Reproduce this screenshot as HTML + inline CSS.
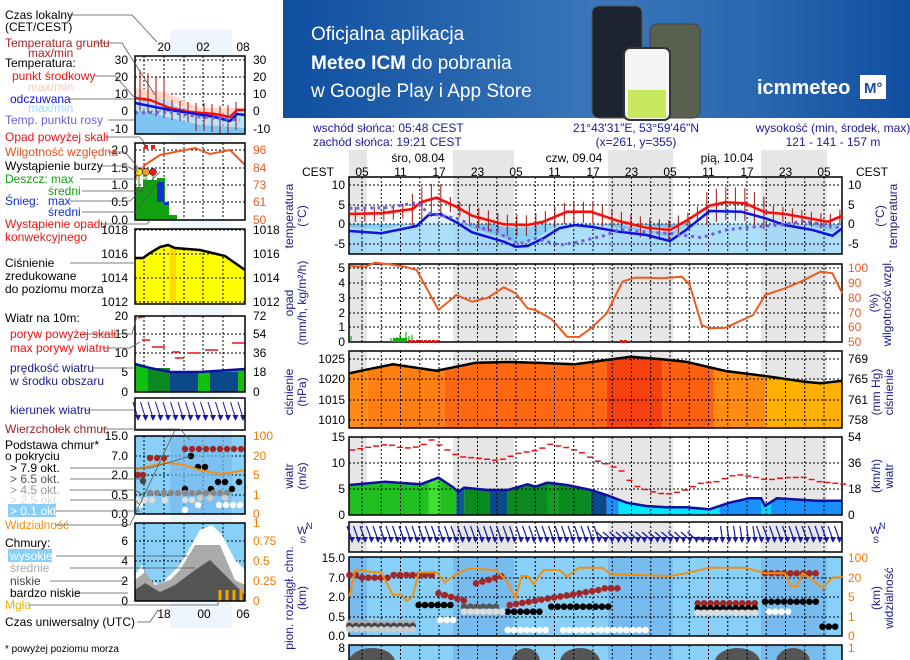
<!DOCTYPE html>
<html><head><meta charset="utf-8">
<style>
html,body{margin:0;padding:0;background:#fff;}
svg{display:block;font-family:"Liberation Sans",Arial,sans-serif;}
</style></head><body>
<svg id="s" width="910" height="660" viewBox="0 0 910 660" xmlns="http://www.w3.org/2000/svg">
<defs>
<linearGradient id="bn" x1="0" y1="0" x2="1" y2="0">
<stop offset="0" stop-color="#0f4fa0"/><stop offset="0.5" stop-color="#3a76b8"/><stop offset="0.75" stop-color="#2c68b0"/><stop offset="1" stop-color="#114ea0"/>
</linearGradient>
</defs>
<!-- banner -->
<rect x="283" y="0" width="627" height="118" fill="url(#bn)"/>
<text x="311" y="40" fill="#fff" font-size="19">Oficjalna aplikacja</text>
<text x="311" y="69" fill="#fff" font-size="19"><tspan font-weight="bold">Meteo ICM</tspan> do pobrania</text>
<text x="311" y="97" fill="#fff" font-size="19">w Google Play i App Store</text>
<rect x="592" y="6" width="50" height="112" rx="7" fill="#1c2431" stroke="#555"/>
<rect x="650" y="24" width="50" height="94" rx="7" fill="#5a6050" stroke="#444"/>
<rect x="624" y="48" width="46" height="72" rx="6" fill="#f4f4f4" stroke="#333" stroke-width="2"/>
<rect x="628" y="90" width="38" height="28" fill="#c8e860"/>
<text x="757" y="94" fill="#fff" font-size="20" font-weight="bold">icmmeteo</text>
<rect x="860" y="75" width="26" height="24" fill="#fff"/>
<text x="864" y="93" fill="#1a4fa0" font-size="15" font-weight="bold">M°</text>
<g id="g"></g>
</svg>
<script>
const NS="http://www.w3.org/2000/svg",G=document.getElementById('g');
function el(t,a,txt){const e=document.createElementNS(NS,t);for(const k in a)e.setAttribute(k,a[k]);if(txt!==undefined)e.textContent=txt;G.appendChild(e);return e;}
function T(x,y,s,c,o){o=o||{};el('text',Object.assign({x:x,y:y,fill:c||'#000','font-size':o.fs||12,'text-anchor':o.a||'start'},o.ex||{}),s);}
const zx=z=>290+z/2.526, zy2=z=>115+z/3, zy3=z=>340+z/3;
const L=349,R=842;
function pts(arr,fy){return arr.map(p=>zx(p[0]).toFixed(1)+','+fy(p[1]).toFixed(1)).join(' ');}
function interp(arr,x){for(let i=0;i<arr.length-1;i++){if(x>=arr[i][0]&&x<=arr[i+1][0]){const t=(x-arr[i][0])/(arr[i+1][0]-arr[i][0]);return arr[i][1]+t*(arr[i+1][1]-arr[i][1]);}}return arr[x<arr[0][0]?0:arr.length-1][1];}
const nights=[[349,367],[453,514],[608,673],[761,827]];
const vx=[];for(let x=362-19.25;x<R;x+=19.25)if(x>L)vx.push(x);

// header texts
T(313,132,'wschód słońca: 05:48 CEST','#1a1a9a');
T(313,146,'zachód słońca: 19:21 CEST','#1a1a9a');
T(636,132,'21°43\'31"E, 53°59\'46"N','#1a1a9a',{a:'middle'});
T(636,146,'(x=261,  y=355)','#1a1a9a',{a:'middle'});
T(833,132,'wysokość (min, środek, max)','#1a1a9a',{a:'middle'});
T(833,146,'121 - 141 - 157 m','#1a1a9a',{a:'middle'});
nights.forEach(n=>el('rect',{x:n[0],y:150,width:n[1]-n[0],height:27,fill:'#e6e6e6'}));
T(418,162,'śro, 08.04','#000',{a:'middle'});T(574,162,'czw, 09.04','#000',{a:'middle'});T(727,162,'pią, 10.04','#000',{a:'middle'});
T(302,176,'CEST');T(856,176,'CEST');
['05','11','17','23','05','11','17','23','05','11','17','23','05'].forEach((h,i)=>T(362+i*38.5,176,h,'#000',{a:'middle'}));

function panel(y0,y1,bg,nightc,hl,ll,rl){
  el('rect',{x:L,y:y0,width:R-L,height:y1-y0,fill:bg});
  nights.forEach(n=>el('rect',{x:n[0],y:y0,width:n[1]-n[0],height:y1-y0,fill:nightc}));
}
function grid(y0,y1,hl){
  vx.forEach(x=>el('line',{x1:x,y1:y0,x2:x,y2:y1,stroke:'#000','stroke-width':1,'stroke-dasharray':'2,2'}));
  hl.forEach(y=>el('line',{x1:L,y1:y,x2:R,y2:y,stroke:'#000','stroke-width':1,'stroke-dasharray':'2,2'}));
  el('rect',{x:L,y:y0,width:R-L,height:y1-y0,fill:'none',stroke:'#000','stroke-width':1.5});
}
function labels(ys,ls,rs,rc){ys.forEach((y,i)=>{T(345,y+4,ls[i],'#000',{a:'end'});if(rs)T(848,y+4,rs[i],rc||'#000');});}
function vtitle(x,y,lines,c){lines.forEach((s,i)=>T(x+i*13,y,s,c||'#1a1a8a',{a:'middle',ex:{transform:`rotate(-90 ${x+i*13} ${y})`}}));}

// TEMP panel 177-254
panel(177,254,'#fff','#e6e6e6');
const red=[[150,297],[230,295],[310,282],[330,262],[370,248],[420,275],[460,302],[540,328],[600,330],[640,320],[700,290],[760,290],[830,318],[900,338],[960,345],[1000,318],[1060,272],[1100,262],[1150,265],[1200,292],[1250,297],[1320,312],[1360,320],[1395,302]];
const blue=[[150,348],[230,355],[300,338],[320,333],[350,300],[380,297],[420,322],[460,352],[540,380],[570,395],[600,393],[640,370],[680,340],[720,330],[760,335],[830,350],[900,360],[960,378],[1000,345],[1060,288],[1140,290],[1200,310],[1250,330],[1320,345],[1370,362],[1395,340]];
const dew=[[150,280],[250,278],[320,262],[350,295],[420,310],[470,335],[520,350],[580,387],[620,370],[680,390],[720,383],[800,360],[830,343],[900,352],[960,355],[1040,368],[1100,345],[1160,337],[1240,330],[1300,318],[1395,340]];
el('rect',{x:L,y:224,width:R-L,height:30,fill:'#88d0f8'});
nights.forEach(n=>el('rect',{x:n[0],y:224,width:n[1]-n[0],height:30,fill:'#7cc0ee'}));
el('polygon',{points:zx(150)+','+zy2(418)+' '+pts(blue.map(p=>[p[0],p[1]-12]),zy2)+' '+zx(1395)+','+zy2(418),fill:'#c6e8fb',opacity:0.6});
el('polygon',{points:pts(blue.map(p=>[p[0],Math.max(p[1]-4,328)]),zy2)+' '+pts(blue.slice().reverse().map(p=>[p[0],Math.max(p[1]+10,328)]),zy2),fill:'#a8dcfa',opacity:0.8});
el('polygon',{points:pts(red.map(p=>[p[0],p[1]-6]),zy2)+' '+pts(red.slice().reverse().map(p=>[p[0],p[1]+8]),zy2),fill:'#ffd8d0',opacity:0.8});
grid(177,254,[185,205,224,244]);
for(let z=165;z<1395;z+=24){const y=zy2(interp(red,z));const amp=(z>300&&z<400)||(z>1050&&z<1200)?22:(z>450&&z<1000?14:10);el('line',{x1:zx(z),y1:y-amp*0.7,x2:zx(z),y2:y+amp*0.8,stroke:'#a01010','stroke-width':1});}
el('polyline',{points:pts(red,zy2),fill:'none',stroke:'#f01010','stroke-width':2.5});
el('polyline',{points:pts(blue,zy2),fill:'none',stroke:'#1010e0','stroke-width':2.5});
el('polyline',{points:pts(dew,zy2),fill:'none',stroke:'#7060e0','stroke-width':3,'stroke-dasharray':'3,4'});
labels([185,205,224,244],['10','5','0','-5'],['10','5','0','-5']);
vtitle(293,216,['temperatura','(°C)']);vtitle(884,216,['(°C)','temperatura']);

// PRECIP 264-342
panel(264,342,'#fff','#e6e6e6');
grid(264,342,[268,283,298,313,327]);
const hum=[[150,453],[190,455],[215,443],[250,448],[290,455],[320,465],[375,585],[420,540],[460,560],[500,548],[540,517],[570,535],[600,580],[620,585],[660,612],[700,665],[730,666],[760,640],[800,595],[840,500],[870,488],[900,488],[940,490],[990,485],[1010,510],[1040,630],[1060,640],[1100,638],[1170,600],[1200,540],[1220,532],[1250,520],[1290,500],[1340,470],[1370,475],[1395,535]];
el('polyline',{points:pts(hum,zy2),fill:'none',stroke:'#f05a20','stroke-width':2});
[[351,6],[391,4],[394,3],[397,5],[400,8],[403,4],[406,10],[409,6],[412,7]].forEach(b=>el('line',{x1:b[0],y1:342,x2:b[0],y2:342-b[1],stroke:'#10b010','stroke-width':1.2}));
el('rect',{x:393,y:338,width:14,height:4,fill:'#10b010'});
[408,412,416,420,424,428,432,436,620,624].forEach(x=>el('rect',{x:x,y:340,width:3,height:3,fill:'#c02020'}));
labels([268,283,298,313,327,342],['5','4','3','2','1','0'],['100','90','80','70','60','50'],'#f05a20');
vtitle(293,303,['opad','(mm/h, kg/m²/h)']);vtitle(878,303,['(%)','wilgotność wzgl.']);

// PRESSURE 351-428
panel(351,428,'#fff','#e6e6e6');
const pr=[[150,100],[180,92],[260,73],[370,92],[470,68],[560,66],[620,68],[720,73],[860,50],[940,58],[1000,65],[1100,93],[1200,108],[1300,125],[1340,130],[1395,122]];
const bands=[[150,195,'#ff8a14'],[195,390,'#ff8010'],[390,800,'#ff6810'],[800,940,'#f54010'],[940,1070,'#ff6010'],[1070,1200,'#ff8c10'],[1200,1395,'#ffb000']];
const clipP=el('clipPath',{id:'cp'});
const poly=document.createElementNS(NS,'polygon');poly.setAttribute('points',pts(pr,zy3)+` ${R},428 ${L},428`);clipP.appendChild(poly);
bands.forEach(b=>el('rect',{x:zx(b[0]),y:351,width:zx(b[1])-zx(b[0]),height:77,fill:b[2],'clip-path':'url(#cp)'}));
grid(351,428,[359,379,400,420]);
el('polyline',{points:pts(pr,zy3),fill:'none',stroke:'#000','stroke-width':2.5});
labels([359,379,400,420],['1025','1020','1015','1010'],['769','765','761','758']);
vtitle(293,392,['ciśnienie','(hPa)']);vtitle(880,392,['(mm Hg)','ciśnienie']);

// WIND 437-515
panel(437,515,'#fff','#e6e6e6');
const wd=[[150,435],[240,425],[330,433],[375,413],[410,440],[425,455],[440,443],[500,450],[550,450],[600,433],[620,440],[650,428],[700,435],[760,450],[800,465],[850,488],[900,498],[950,502],[1000,502],[1060,508],[1110,488],[1160,475],[1190,475],[1200,497],[1230,475],[1330,482],[1395,482]];
const cw=el('clipPath',{id:'cw'});const pw=document.createElementNS(NS,'polygon');pw.setAttribute('points',pts(wd,zy3)+` ${R},515 ${L},515`);cw.appendChild(pw);
[[150,420,'#20c020'],[350,380,'#40e030'],[420,440,'#0a5a9a'],[440,505,'#0a8a20'],[505,550,'#0a4a8a'],[550,760,'#0a8a20'],[650,680,'#10a020'],[760,800,'#0a4a8a'],[800,830,'#1a90ff'],[830,1085,'#00e8ff'],[1085,1395,'#1a90ff'],[1190,1215,'#00d8ff']].forEach(b=>el('rect',{x:zx(b[0]),y:437,width:zx(b[1])-zx(b[0]),height:78,fill:b[2],'clip-path':'url(#cw)'}));
grid(437,515,[463,489]);
el('polyline',{points:pts(wd,zy3),fill:'none',stroke:'#1010a0','stroke-width':2.5});
const gust=[[150,330],[200,320],[240,313],[280,325],[320,320],[350,300],[390,330],[420,350],[470,355],[520,362],[570,340],[620,330],[650,313],[700,325],[740,343],[760,360],[800,375],[830,393],[860,435],[900,453],[940,463],[980,455],[1030,430],[1070,425],[1120,403],[1160,410],[1200,420],[1240,413],[1290,412],[1330,425],[1395,433]];
for(let z=150;z<1395;z+=20){const y=zy3(interp(gust,z));el('line',{x1:zx(z),y1:y,x2:zx(z)+6,y2:y,stroke:'#f01010','stroke-width':1.5});}
labels([437,463,489,515],['15','10','5','0'],['54','36','18','0']);
vtitle(293,476,['wiatr','(m/s)']);vtitle(880,476,['(km/h)','wiatr']);

// WIND DIR 522-552
panel(522,552,'#fff','#e6e6e6');
vx.forEach(x=>el('line',{x1:x,y1:522,x2:x,y2:552,stroke:'#000','stroke-dasharray':'2,2'}));
el('rect',{x:L,y:522,width:R-L,height:30,fill:'none',stroke:'#000','stroke-width':1.5});
for(let x=352;x<R;x+=6.5){let dx=-5,dy=14;if(x>600&&x<705){dx=-9;dy=8;}if(x>700&&x<720){dx=-12;dy=3;}if(x>720&&x<760){dx=-2;dy=14;}
 el('line',{x1:x+dx,y1:540-dy,x2:x,y2:540,stroke:'#1a1aa0','stroke-width':1.2});
 el('polygon',{points:`${x-3},${537} ${x+3},${537} ${x},${543}`,fill:'#1a1aa0'});}
[[297,534],[870,534]].forEach(p=>{T(p[0],p[1],'W','#1a1a8a',{fs:11});T(p[0]+9,p[1]-5,'N','#1a1a8a',{fs:9});T(p[0]+3,p[1]+9,'S','#1a1a8a',{fs:9});});

// CLOUDS 557-636
panel(557,636,'#88d0f8','#78bbee');
grid(557,636,[578,597,617]);
const vis=[[150,770],[165,690],[215,697],[230,697],[260,765],[280,762],[295,783],[310,770],[325,697],[370,697],[390,727],[420,703],[450,686],[520,690],[545,720],[570,775],[585,708],[600,708],[615,733],[640,690],[680,690],[700,710],[730,683],[790,683],[810,703],[880,705],[960,708],[1000,700],[1060,683],[1150,683],[1200,700],[1250,700],[1265,738],[1280,738],[1295,700],[1320,720],[1345,745],[1370,713],[1395,711]];
function dots(z0,z1,zy,c,step){for(let z=z0;z<=z1;z+=step||16)el('circle',{cx:zx(z),cy:zy3(typeof zy==='function'?zy(z):zy),r:3.3,fill:c});}
dots(150,370,z=>705+(z>180&&z<250?8:0),'#a02828');dots(470,540,z=>730-(z-470)/3,'#a02828');dots(555,780,z=>795-(z-555)/5,'#a02828');dots(795,830,745,'#a02828');dots(1200,1330,700,'#a02828');dots(1030,1180,790,'#a02828');dots(375,440,z=>760+(z-375)/3,'#a02828');
dots(150,320,850,'#aaa');dots(150,320,858,'#444');dots(325,410,795,'#000');dots(440,530,800,'#555');dots(550,640,815,'#000');dots(660,810,800,'#000');dots(1030,1180,805,'#000');dots(1200,1330,785,'#000');dots(1345,1380,860,'#000');
dots(150,320,868,'#ccc');dots(440,540,815,'#ddd');dots(690,905,870,'#fff');dots(550,650,870,'#fff');dots(1030,1180,818,'#ddd');dots(1210,1270,815,'#fff');dots(380,420,840,'#fff');
el('polyline',{points:pts(vis,zy3),fill:'none',stroke:'#f09010','stroke-width':2});
labels([558,578,597,617,636],['15.0','7.0','2.0','0.5','0.0'],['100','20','5','1','0'],'#f07800');
vtitle(293,598,['pion. rozciągł. chm.','(km)']);vtitle(880,598,['(km)','widzialność']);

// cloud cover 645-
panel(645,662,'#88d0f8','#78bbee');
[[349,395],[512,540],[560,600],[715,760],[776,810]].forEach(b=>el('ellipse',{cx:(b[0]+b[1])/2,cy:662,rx:(b[1]-b[0])/2,ry:14,fill:'#555'}));
vx.forEach(x=>el('line',{x1:x,y1:645,x2:x,y2:660,stroke:'#000','stroke-dasharray':'2,2'}));
el('rect',{x:L,y:645,width:R-L,height:20,fill:'none',stroke:'#000','stroke-width':1.5});
T(345,652,'8','#000',{a:'end'});T(848,652,'1','#f07800');

// ===== LEFT PANEL =====
el('rect',{x:170,y:30,width:62,height:598,fill:'#eef5fc'});
T(164,51,'20','#000',{a:'middle'});T(203,51,'02','#000',{a:'middle'});T(243,51,'08','#000',{a:'middle'});
const sx=[144,164,184,203,223];
function small(y0,y1,bg,hl){el('rect',{x:135,y:y0,width:110,height:y1-y0,fill:bg});
 sx.forEach(x=>el('line',{x1:x,y1:y0,x2:x,y2:y1,stroke:'#000','stroke-dasharray':'2,2'}));
 hl.forEach(y=>el('line',{x1:135,y1:y,x2:245,y2:y,stroke:'#000','stroke-dasharray':'2,2'}));}
function sbox(y0,y1){el('rect',{x:135,y:y0,width:110,height:y1-y0,fill:'none',stroke:'#000','stroke-width':1.5});}
function slab(ys,ls,rs,rc){ys.forEach((y,i)=>{T(128,y+4,ls[i],'#000',{a:'end'});if(rs)T(253,y+4,rs[i],rc||'#000');});}
// temp small 56-134
small(56,134,'#fff',[60,77,94,111,129]);
el('polygon',{points:'135,112 150,112 170,118 200,125 245,128 245,134 135,134',fill:'#6ab4ec'});
el('polygon',{points:'135,88 160,95 180,108 245,110 245,134 135,134',fill:'#88d0f8',opacity:0.6});
el('polygon',{points:'135,88 165,92 200,108 245,108 245,112 200,114 165,100 135,96',fill:'#ffd8c8'});
[140,148,156,164,172,180,188,196,204,212,220,228,236].forEach((x,i)=>{const y=[100,103,106,108,110,111,112,113,113,114,116,115,112][i];el('line',{x1:x,y1:y-(i<4?30:10),x2:x,y2:y+(i>6?18:10),stroke:'#a01010'});});
el('polyline',{points:'135,98 150,100 170,108 190,112 215,114 230,117 237,110 245,110',fill:'none',stroke:'#f01010','stroke-width':2.5});
el('polyline',{points:'135,103 150,106 170,110 190,113 215,117 230,121 237,114 245,115',fill:'none',stroke:'#1010e0','stroke-width':2.5});
el('polyline',{points:'135,113 170,112 200,117 240,120',fill:'none',stroke:'#7060e0','stroke-width':3,'stroke-dasharray':'3,4'});
sbox(56,134);slab([60,77,94,111,129],['30','20','10','0','-10'],['30','20','10','0','-10']);
// precip small 143-220
small(143,220,'#fff',[150,168,185,202]);
el('polygon',{points:'135,187 143,187 143,180 157,180 157,178 165,178 165,220 135,220',fill:'#10a010'});
el('rect',{x:157,y:182,width:7,height:20,fill:'#1030d0'});
el('rect',{x:164,y:205,width:5,height:15,fill:'#10a010'});el('rect',{x:164,y:202,width:5,height:3,fill:'#1030d0'});el('rect',{x:169,y:215,width:8,height:5,fill:'#10a010'});
el('polyline',{points:'135,178 145,165 160,155 175,152 185,150 195,148 210,154 230,150 245,165',fill:'none',stroke:'#f05a20','stroke-width':2});
[[139,172,'#f0e020'],[146,172,'#f0a020'],[153,172,'#e02020']].forEach(c=>{el('line',{x1:c[0],y1:172,x2:c[0],y2:220,stroke:'#10a010'});el('circle',{cx:c[0],cy:c[1],r:3.5,fill:c[2],stroke:'#000','stroke-width':0.5});});
[146,153].forEach(x=>el('rect',{x:x-2,y:145,width:4,height:4,fill:'#e02020'}));
sbox(143,220);slab([150,168,185,202,220],['2.0','1.5','1.0','0.5','0.0'],['96','84','73','61','50'],'#f05a20');
// pressure small 229-304
small(229,304,'#ffff00',[254,278,302]);
el('polygon',{points:'135,229 245,229 245,270 225,256 200,250 175,248 168,245 160,247 150,253 143,258 135,258',fill:'#fff'});
el('rect',{x:170,y:247,width:6,height:57,fill:'#ffc000',opacity:0.6});
el('polyline',{points:'135,258 143,258 150,253 160,247 168,245 175,248 200,250 225,256 245,270',fill:'none',stroke:'#000','stroke-width':2.5});
el('line',{x1:135,y1:230,x2:245,y2:230,stroke:'#000','stroke-dasharray':'2,2'});
sbox(229,304);slab([230,254,278,302],['1018','1016','1014','1012'],['1018','1016','1014','1012']);
// wind small 316-392
small(316,392,'#fff',[334,353,372]);
el('polygon',{points:'135,365 150,368 170,372 200,372 230,370 245,369 245,392 135,392',fill:'#10c010'});
el('rect',{x:148,y:368,width:22,height:24,fill:'#0a8a20'});el('rect',{x:170,y:372,width:28,height:20,fill:'#0a4a8a'});el('rect',{x:210,y:372,width:28,height:20,fill:'#0a4a8a'});
el('polyline',{points:'135,364 150,368 170,372 200,372 230,370 245,369',fill:'none',stroke:'#1010a0','stroke-width':2.5});
[[138,318,145,316],[142,340,150,340],[152,347,165,347],[172,352,180,352],[175,358,184,358],[188,353,200,353],[205,350,218,350],[232,343,245,343]].forEach(l=>el('line',{x1:l[0],y1:l[1],x2:l[2],y2:l[3],stroke:'#f01010','stroke-width':1.5}));
sbox(316,392);slab([316,334,353,372,392],['20','15','10','5','0'],['72','54','36','18','0']);
// winddir small 398-430
el('rect',{x:135,y:398,width:110,height:32,fill:'#fff'});
for(let x=138;x<250;x+=7.5){el('line',{x1:x-5,y1:402,x2:x,y2:418,stroke:'#1a1aa0'});el('polygon',{points:`${x-3},415 ${x+3},415 ${x},421`,fill:'#1a1aa0'});}
sbox(398,430);
// clouds small 436-514
small(436,514,'#88d0f8',[456,475,495]);
el('rect',{x:170,y:436,width:62,height:78,fill:'#78bbee',opacity:0.7});
[[142,430],[147,410],[160,410],[167,410]].forEach(()=>{});
function sd(xs,y,c){xs.forEach(x=>el('circle',{cx:x,cy:y,r:3.2,fill:c}));}
sd([185,192,199,206,213,220,227,234,241],449,'#a02828');sd([150,157,164],458,'#a02828');sd([138,143],475,'#a02828');
sd([191],456,'#000');sd([198,205],467,'#000');sd([218,225,239],482,'#000');sd([185,211,232],489,'#000');sd([143],481,'#444');
sd([150,157,164,171,178,185,192,199,206,213,220,227],493,'#888');sd([200,210,225],498,'#ccc');sd([138,145,152,165,185,192],500,'#ddd');sd([198,219,226,233,240],505,'#fff');sd([185],510,'#fff');sd([140],505,'#fff');
el('polyline',{points:'135,470 150,466 165,463 180,464 200,470 220,474 235,472 245,470',fill:'none',stroke:'#f09010','stroke-width':2});
sbox(436,514);slab([436,456,475,495,514],['15.0','7.0','2.0','0.5','0.0'],['100','20','5','1','0'],'#f07800');
// cloud cover small 523-601
small(523,601,'#88d0f8',[541,561,581]);
el('polygon',{points:'135,575 142,565 147,580 160,585 170,575 180,565 190,548 200,530 212,525 222,535 235,560 245,570 245,601 135,601',fill:'#fff'});
el('polygon',{points:'135,580 145,572 155,585 170,580 180,570 195,545 205,545 220,545 235,580 245,585 245,601 135,601',fill:'#aaa'});
el('polygon',{points:'135,590 145,583 160,592 175,585 195,570 210,560 225,575 245,595 245,601 135,601',fill:'#555'});
[220,227,234,241].forEach(x=>el('rect',{x:x-1.5,y:590,width:3,height:11,fill:'#f0a800'}));
sbox(523,601);slab([523,541,561,581,601],['8','6','4','2','0'],['1','0.75','0.5','0.25','0'],'#f07800');
T(164,618,'18','#000',{a:'middle'});T(204,618,'00','#000',{a:'middle'});T(243,618,'06','#000',{a:'middle'});

// left labels
const LB=[
['Czas lokalny',5,19,'#000'],['(CET/CEST)',5,31,'#000'],
['Temperatura gruntu',5,47,'#b02020'],['max/min',28,57,'#b02020'],['Temperatura:',5,67,'#000'],
['punkt środkowy',12,80,'#f01010'],['max/min',28,91,'#ffc8b8'],['odczuwana',10,103,'#1010e0'],['max/min',28,112,'#99ddff'],
['Temp. punktu rosy',5,124,'#7060e0'],['Opad powyżej skali',5,141,'#f01010'],['Wilgotność względna',5,156,'#e05020'],
['Wystąpienie burzy',5,170,'#000'],['Deszcz: max',5,183,'#10a010'],['średni',48,195,'#10a010'],['Śnieg:',5,205,'#1030d0'],['max',48,205,'#1030d0'],['średni',48,216,'#1030d0'],
['Wystąpienie opadu',5,228,'#f01010'],['konwekcyjnego',5,241,'#f01010'],['Ciśnienie',5,267,'#000'],['zredukowane',5,280,'#000'],['do poziomu morza',5,293,'#000'],
['Wiatr na 10m:',5,322,'#000'],['poryw powyżej skali',10,338,'#f01010'],['max porywy wiatru',10,352,'#f01010'],['prędkość wiatru',10,372,'#1a1a8a'],['w środku obszaru',10,385,'#1a1a8a'],
['kierunek wiatru',10,414,'#1a1a8a'],['Wierzchołek chmur',5,433,'#a02020'],['Podstawa chmur*',5,449,'#000'],['o pokryciu',5,460,'#000'],
['> 7.9 okt.',10,472,'#000'],['> 6.5 okt.',10,483,'#555'],['> 4.5 okt.',10,494,'#999'],['> 2.5 okt.',10,504,'#ddd'],
['Widzialność',5,529,'#f09010'],['Chmury:',5,547,'#000'],['średnie',10,572,'#aaa'],['niskie',10,585,'#444'],['bardzo niskie',10,597,'#000'],['Mgła',5,609,'#f0b000'],
['Czas uniwersalny (UTC)',5,626,'#000']];
el('rect',{x:8,y:504,width:48,height:13,fill:'#88d0f8'});el('rect',{x:8,y:549,width:44,height:13,fill:'#88d0f8'});
LB.forEach(l=>T(l[1],l[2],l[0],l[3]));
T(10,515,'> 0.1 okt.','#fff');T(10,560,'wysokie','#fff');
T(5,652,'* powyżej poziomu morza','#000',{fs:10});
// leader lines
const LN=[[[70,15],[132,15],[157,42]],[[95,43],[122,43],[155,95]],[[94,76],[115,76],[135,98]],[[70,99],[135,99]],[[108,120],[135,120]],[[105,137],[140,137],[146,145]],[[108,152],[125,152],[140,170]],[[100,166],[127,166],[138,172]],[[80,179],[138,179]],[[82,191],[145,191]],[[70,201],[130,201],[160,172]],[[82,212],[135,212],[160,180]],[[100,224],[147,224],[150,220]],[[70,263],[135,263]],[[82,334],[132,334],[137,316]],[[102,348],[130,348],[140,342]],[[92,368],[135,368]],[[84,410],[135,410]],[[102,429],[180,429],[190,440]],[[70,468],[150,468],[191,456]],[[70,479],[143,479]],[[70,490],[135,490],[143,495]],[[70,500],[135,500],[140,505]],[[56,511],[140,511]],[[55,525],[130,525],[175,430]],[[56,556],[188,556]],[[70,568],[195,568]],[[50,581],[128,581]],[[75,593],[128,593]],[[30,605],[218,605],[218,590]],[[137,622],[150,622],[158,610]]];
LN.forEach(l=>el('polyline',{points:l.map(p=>p.join(',')).join(' '),fill:'none',stroke:'#555','stroke-width':0.8}));
</script>
</body></html>
